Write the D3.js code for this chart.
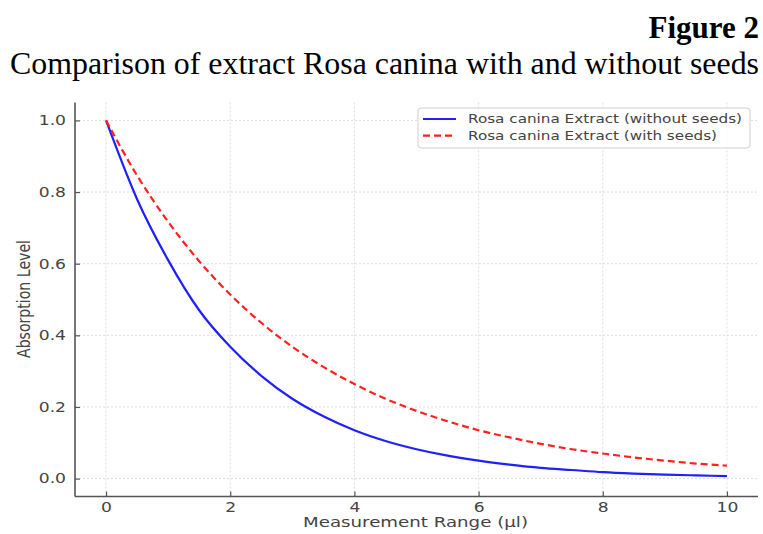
<!DOCTYPE html>
<html><head><meta charset="utf-8">
<script src="https://cdn.jsdelivr.net/npm/d3@7"></script>
<style>body{margin:0;background:#fff}svg{display:block}</style>
</head><body>
<svg id="c" width="763" height="534"></svg>
<script>
const xValues = [0,0.5,1,1.5,2,2.5,3,3.5,4,4.5,5,5.5,6,6.5,7,7.5,8,8.5,9,9.5,10];
const withoutSeeds = [1.0,0.78,0.61,0.47,0.368,0.287,0.223,0.174,0.135,0.105,0.082,0.064,0.05,0.039,0.030,0.024,0.018,0.014,0.011,0.009,0.007];
const withSeeds = [1.0,0.846,0.717,0.607,0.514,0.435,0.368,0.312,0.264,0.223,0.189,0.160,0.135,0.115,0.097,0.082,0.070,0.059,0.050,0.042,0.036];
const xTicks = [0,2,4,6,8,10];
const yTicks = [0.0,0.2,0.4,0.6,0.8,1.0];
const seriesNames = ["Rosa canina Extract (without seeds)","Rosa canina Extract (with seeds)"];
const figureLabel = "Figure 2";
const titleText = "Comparison of extract Rosa canina with and without seeds";
const xLabel = "Measurement Range (\u00b5l)";
const yLabel = "Absorption Level";

const svg = d3.select("#c");
const STRETCH = 1.27;
const sans = "DejaVu Sans";
const x = d3.scaleLinear().domain([-0.5,10.5]).range([75,758]);
const y = d3.scaleLinear().domain([-0.05,1.05]).range([496.5,102.5]);

// titles
svg.append("text").attr("x",759).attr("y",37.5).attr("text-anchor","end")
  .attr("font-family","Liberation Serif").attr("font-weight","bold").attr("font-size",31)
  .attr("fill","#000").text(figureLabel);
const t2 = svg.append("text").attr("x",10).attr("y",73.5)
  .attr("font-family","Liberation Serif").attr("font-size",31).attr("fill","#000").text(titleText);
t2.attr("textLength",749).attr("lengthAdjust","spacingAndGlyphs");

// grid
const grid = svg.append("g").attr("stroke","#d9d9d9").attr("stroke-width",0.9).attr("stroke-dasharray","2,2");
grid.selectAll(".gx").data(xTicks).join("line").attr("x1",d=>x(d)).attr("x2",d=>x(d)).attr("y1",102.5).attr("y2",496.5);
grid.selectAll(".gy").data(yTicks).join("line").attr("y1",d=>y(d)).attr("y2",d=>y(d)).attr("x1",75).attr("x2",758);

// lines
const pts = (arr)=>xValues.map((v,i)=>[v,arr[i]]);
const line = d3.line().x(d=>x(d[0])).y(d=>y(d[1])).curve(d3.curveMonotoneX);
svg.append("path").attr("d",line(pts(withoutSeeds))).attr("fill","none").attr("stroke","#1f1fff").attr("stroke-width",2.2);
svg.append("path").attr("d",line(pts(withSeeds))).attr("fill","none").attr("stroke","#ff2020").attr("stroke-width",2.2).attr("stroke-dasharray","7,4");

// axes
const axX = d3.axisBottom(x).tickValues(xTicks).tickSizeInner(-5).tickSizeOuter(0).tickPadding(9).tickFormat(d3.format("d"));
const axY = d3.axisLeft(y).tickValues(yTicks).tickSizeInner(-5).tickSizeOuter(0).tickPadding(9).tickFormat(d3.format(".1f"));
const gx = svg.append("g").attr("transform","translate(0,496.5)").call(axX);
const gy = svg.append("g").attr("transform","translate(75,0)").call(axY);
gx.select(".domain").attr("d","M75,0H758");
gy.select(".domain").attr("d","M0,102.5V496.5");
[gx,gy].forEach(g=>{
  g.select(".domain").attr("stroke","#555").attr("stroke-width",1.6);
  g.selectAll(".tick line").attr("stroke","#555").attr("stroke-width",1.2);
  g.selectAll(".tick text").attr("font-family",sans).attr("font-size",13.5).attr("fill","#444");
});
gx.selectAll(".tick text").attr("dy","0.71em").attr("y",6);

function stretch(sel, factor){
  sel.each(function(){
    const n=this; const w=n.getComputedTextLength();
    n.setAttribute("textLength", w*(factor||STRETCH)); n.setAttribute("lengthAdjust","spacingAndGlyphs");
  });
}
stretch(gy.selectAll(".tick text"));
stretch(gx.selectAll(".tick text"));
gx.selectAll(".tick text").attr("text-anchor","middle");

// axis labels
svg.append("text").attr("x",415.5).attr("y",527).attr("text-anchor","middle")
  .attr("font-family",sans).attr("font-size",13.5).attr("fill","#444").text(xLabel)
  .attr("textLength",225).attr("lengthAdjust","spacingAndGlyphs");
svg.append("text").attr("transform","translate(30,299) rotate(-90) scale(1,1.25)").attr("text-anchor","middle")
  .attr("font-family",sans).attr("font-size",14.5).attr("fill","#444").text(yLabel)
  .attr("textLength",118).attr("lengthAdjust","spacingAndGlyphs");

// legend
const lg = svg.append("g");
lg.append("rect").attr("x",418).attr("y",108).attr("width",332).attr("height",40).attr("rx",3)
  .attr("fill","#fff").attr("fill-opacity",0.85).attr("stroke","#d0d0d0").attr("stroke-width",1);
const colors=["#1f1fff","#ff2020"], dashes=[null,"7,4"];
const legendWidths=[274,249];
seriesNames.forEach((n,i)=>{
  const yy = 119 + i*16.7;
  lg.append("line").attr("x1",423).attr("x2",456).attr("y1",yy).attr("y2",yy)
    .attr("stroke",colors[i]).attr("stroke-width",2.2).attr("stroke-dasharray",dashes[i]);
  lg.append("text").attr("x",468).attr("y",yy).attr("dy","0.35em")
    .attr("font-family",sans).attr("font-size",12.5).attr("fill","#444").text(n)
    .attr("textLength",legendWidths[i]).attr("lengthAdjust","spacingAndGlyphs");
});
</script>
</body></html>
